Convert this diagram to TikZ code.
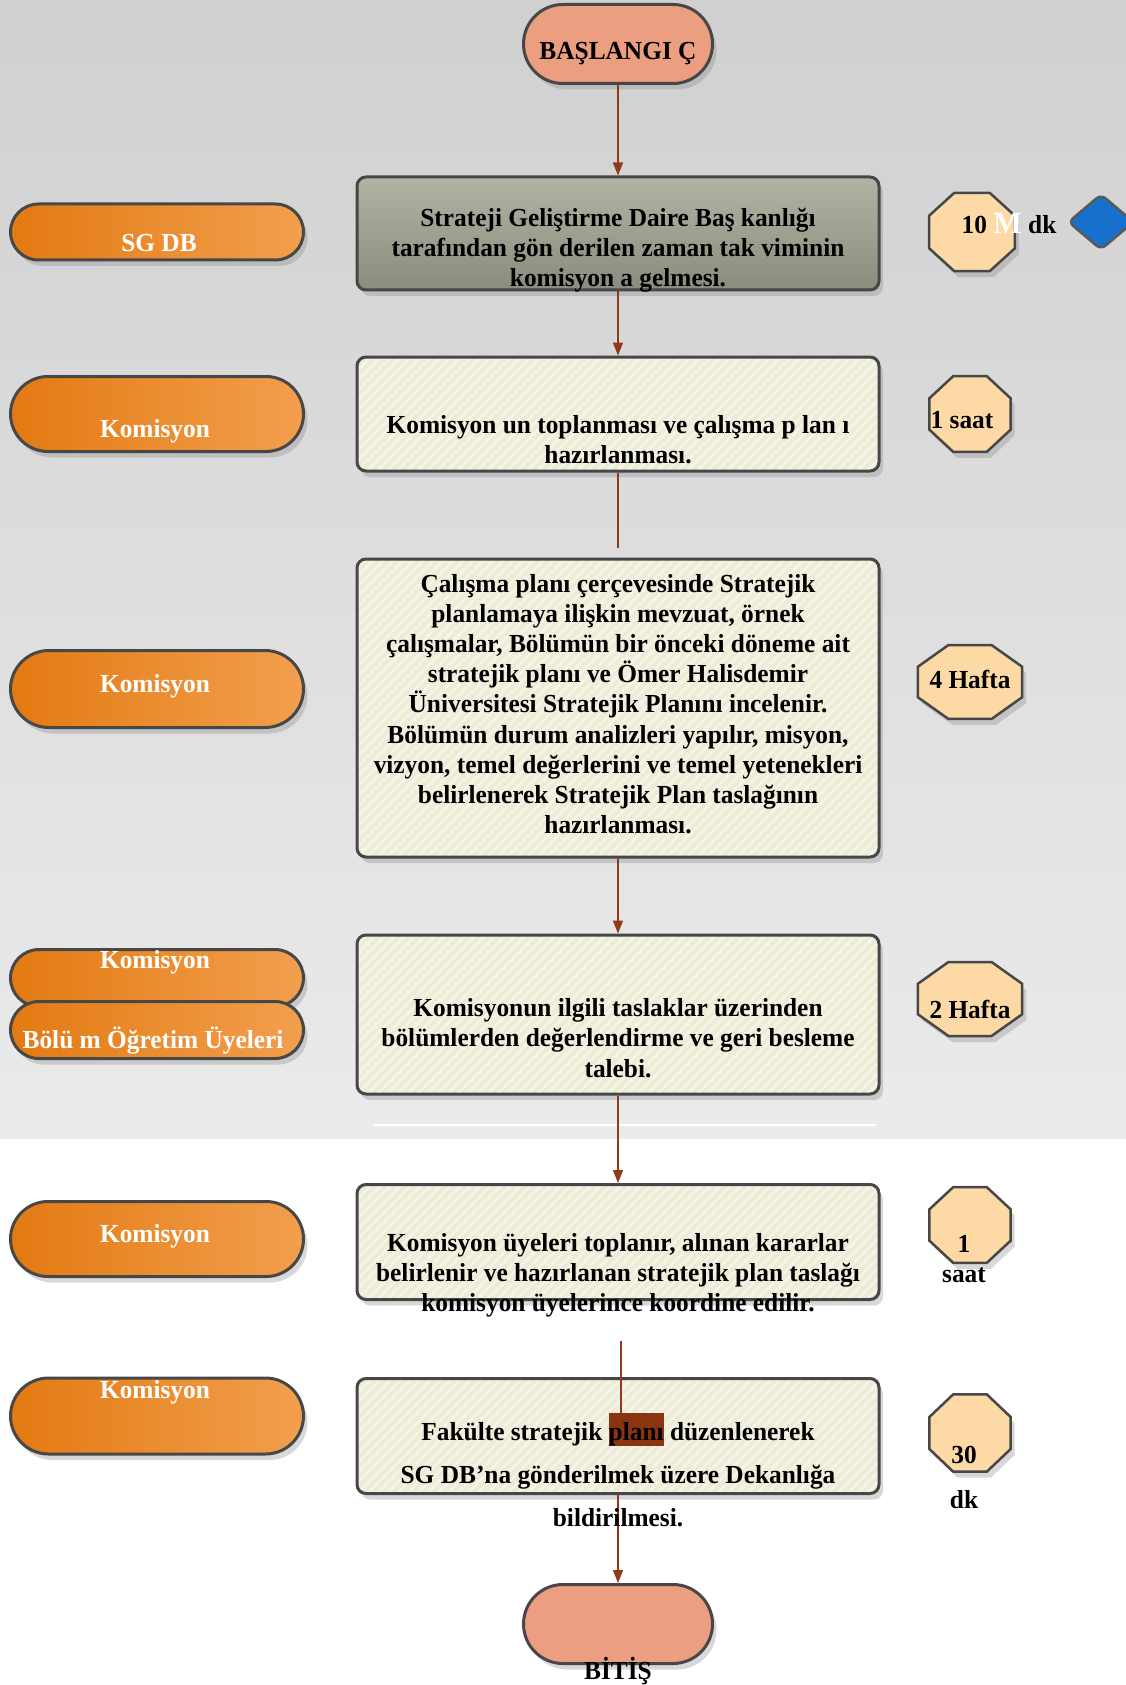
\documentclass[tikz,border=0pt]{standalone}
\usepackage{fontspec}
\setmainfont[FakeStretch=0.975]{Liberation Serif}
\usetikzlibrary{shapes.misc,shapes.geometric,arrows.meta,shadows}
\definecolor{bgtop}{HTML}{D0D0D0}
\definecolor{bgbot}{HTML}{EBEBEB}
\definecolor{bord}{HTML}{474747}
\definecolor{salmon}{HTML}{EB9F80}
\definecolor{orL}{HTML}{E37A12}
\definecolor{orR}{HTML}{F29F4E}
\definecolor{oliveT}{HTML}{B3B3A4}
\definecolor{oliveB}{HTML}{8C8C7E}
\definecolor{cream}{HTML}{EEECD7}
\definecolor{peach}{HTML}{FDD9A6}
\definecolor{arrowc}{HTML}{8E3B1B}
\definecolor{hl}{HTML}{8B3510}
\definecolor{bluedia}{HTML}{1670CC}
\tikzset{
  shad/.style={drop shadow={opacity=0.3, shadow xshift=4pt, shadow yshift=-6pt}},
  flowbox/.style={draw=bord, line width=3pt, rounded corners=9pt, minimum width=522pt, inner sep=0pt, shad},
  stripes/.style={path picture={
      \foreach \i in {-340,-330,...,560}
        \draw[white, opacity=0.45, line width=2.5pt]
          ([xshift=\i pt]path picture bounding box.south west) -- ++(360pt,360pt);}},
  creambox/.style={flowbox, fill=cream, stripes},
  olivebox/.style={flowbox, top color=oliveT, bottom color=oliveB},
  pill/.style={rounded rectangle, draw=bord, line width=3pt, left color=orL, right color=orR, minimum width=293pt, inner sep=0pt, shad},
  octo/.style={regular polygon, regular polygon sides=8, draw=bord, line width=2.5pt, fill=peach, inner sep=0pt, transform shape, shad},
  term/.style={rounded rectangle, draw=bord, line width=3pt, fill=salmon, minimum width=189pt, minimum height=79pt, inner sep=0pt, shad},
  txt/.style={font=\fontsize{26}{30.2}\selectfont\bfseries, align=center, inner sep=0pt},
  wtxt/.style={txt, text=white},
  flow/.style={draw=arrowc, line width=1.6pt},
  arr/.style={flow, -{Triangle[length=13pt,width=10pt]}},
}
\begin{document}
\begin{tikzpicture}[x=1pt,y=-1pt]
\useasboundingbox (0,0) rectangle (1126,1685);
\fill[top color=bgtop, bottom color=bgbot] (0,0) rectangle (1126,1139);
\fill[white] (0,1139) rectangle (1126,1685);
\draw[white, line width=2.5pt] (373,1125) -- (876,1125);

% terminals
\node[term] (start) at (618,44) {};
\node[term] (end) at (618,1624) {};

% process boxes
\node[olivebox, minimum height=113pt] (b1) at (618,233.5) {};
\node[creambox, minimum height=114pt] (b2) at (618,414) {};
\node[creambox, minimum height=298pt] (b3) at (618,708) {};
\node[creambox, minimum height=159pt] (b4) at (618,1014.5) {};
\node[creambox, minimum height=115pt] (b5) at (618,1242) {};
\node[creambox, minimum height=115pt] (b6) at (618,1436) {};

% left pills
\node[pill, minimum height=56pt] (p1) at (157,232) {};
\node[pill, minimum height=75pt] (p2) at (157,414) {};
\node[pill, minimum height=77pt] (p3) at (157,689) {};
\node[pill, minimum height=57pt] (p4a) at (157,978) {};
\node[pill, minimum height=57pt] (p4b) at (157,1030) {};
\node[pill, minimum height=75pt] (p5) at (157,1239) {};
\node[pill, minimum height=76pt] (p6) at (157,1416) {};

% octagons
\node[octo, minimum size=93pt, yscale=0.91] (o1) at (972,232) {};
\node[diamond, draw=gray!70!black, line width=2.5pt, fill=bluedia, rounded corners=6pt, minimum width=66pt, minimum height=56pt, inner sep=0pt] (dia) at (1101,222) {};
\node[octo, minimum size=88pt, yscale=0.93] (o2) at (970,414) {};
\node[octo, minimum size=88pt, xscale=1.28, yscale=0.91] (o3) at (970,682) {};
\node[octo, minimum size=88pt, xscale=1.28, yscale=0.91] (o4) at (970,999) {};
\node[octo, minimum size=88pt, yscale=0.93] (o5) at (970,1225) {};
\node[octo, minimum size=88pt, yscale=0.95] (o6) at (970,1433) {};

% connectors
\coordinate (c2) at (618,548);
\coordinate (c5a) at (621,1341);
\coordinate (c5b) at (621,1416);
\draw[arr] (start.south) -- (b1.north);
\draw[arr] (b1.south) -- (b2.north);
\draw[flow] (b2.south) -- (c2);
\draw[arr] (b3.south) -- (b4.north);
\draw[arr] (b4.south) -- (b5.north);
\draw[flow] (c5a) -- (c5b);
\draw[arr] (b6.south) -- (end.north);

% terminal texts
\node[txt] (tstart) at (618,54) {BAŞLANGI Ç};
\node[txt] (tend) at (618,1671) {BİTİŞ};

% box texts
\node[txt] (t1) at (618,250) {Strateji Geliştirme Daire Baş kanlığı\\tarafından gön derilen zaman tak viminin\\komisyon a gelmesi.};
\node[txt] (t2) at (618,440) {Komisyon un toplanması ve çalışma p lan ı\\hazırlanması.};
\node[txt] (t3) at (618,704) {Çalışma planı çerçevesinde Stratejik\\planlamaya ilişkin mevzuat, örnek\\çalışmalar, Bölümün bir önceki döneme ait\\stratejik planı ve Ömer Halisdemir\\Üniversitesi Stratejik Planını incelenir.\\Bölümün durum analizleri yapılır, misyon,\\vizyon, temel değerlerini ve temel yetenekleri\\belirlenerek Stratejik Plan taslağının\\hazırlanması.};
\node[txt] (t4) at (618,1038) {Komisyonun ilgili taslaklar üzerinden\\bölümlerden değerlendirme ve geri besleme\\talebi.};
\node[txt] (t5) at (618,1275) {Komisyon üyeleri toplanır, alınan kararlar\\belirlenir ve hazırlanan stratejik plan taslağı\\komisyon üyelerince koordine edilir.};
\node[txt, font=\fontsize{26}{43}\selectfont\bfseries] (t6) at (618,1470) {Fakülte stratejik {\setlength{\fboxsep}{0pt}\colorbox{hl}{\rule[-5pt]{0pt}{32pt}planı}} düzenlenerek\\SG DB’na gönderilmek üzere Dekanlığa\\bildirilmesi.};

% pill texts
\node[wtxt] (tp1) at (159,243) {SG DB};
\node[wtxt] (tp2) at (155,431) {Komisyon};
\node[wtxt] (tp3) at (155,686) {Komisyon};
\node[wtxt] (tp4a) at (155,962) {Komisyon};
\node[wtxt] (tp4b) at (153,1041) {Bölü m Öğretim Üyeleri};
\node[wtxt] (tp5) at (155,1236) {Komisyon};
\node[wtxt] (tp6) at (155,1392) {Komisyon};

% octagon texts
\node[txt] (to1) at (1009,223) {10 {\color{white}\fontsize{31}{30}\selectfont M} dk};
\node[txt] (to2) at (962,420) {1 saat};
\node[txt] (to3) at (970,679) {4 Hafta};
\node[txt] (to4) at (970,1009) {2 Hafta};
\node[txt] (to5) at (964,1259) {1\\saat};
\node[txt] (to6a) at (964,1455) {30};
\node[txt] (to6b) at (964,1500) {dk};
\end{tikzpicture}
\end{document}
